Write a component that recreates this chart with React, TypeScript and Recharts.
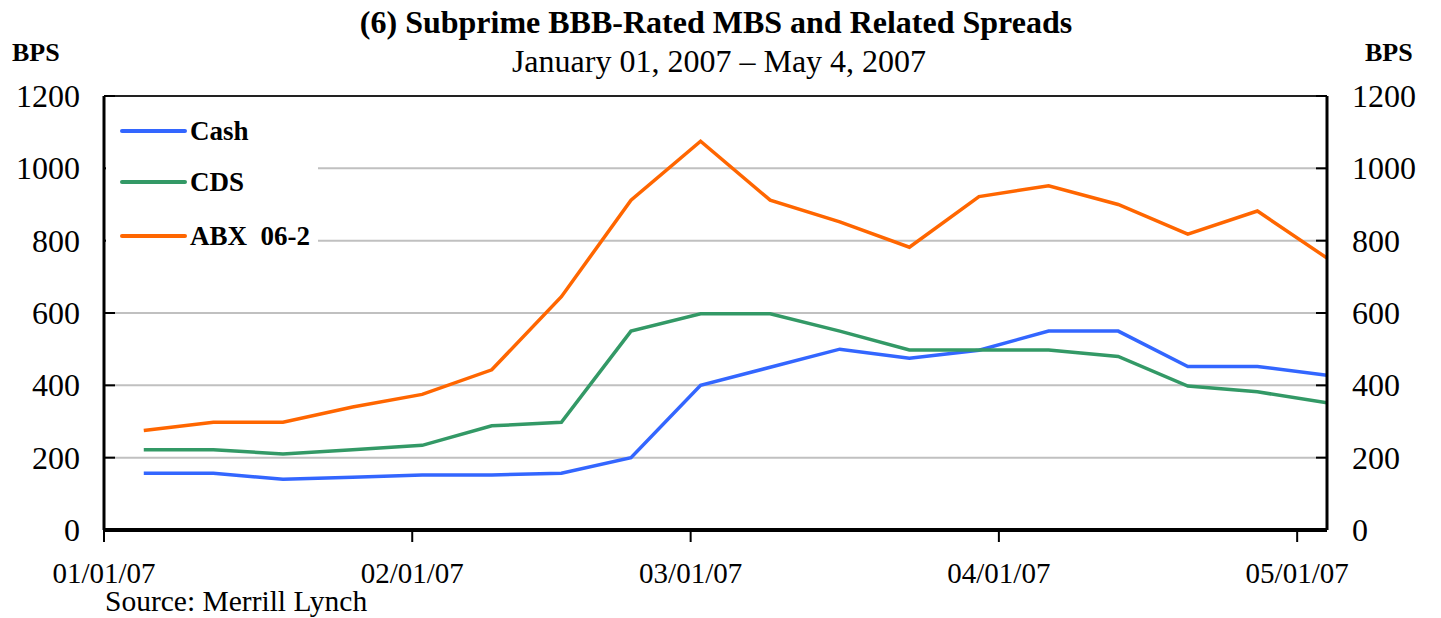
import React from "react";
import {
  LineChart,
  Line,
  XAxis,
  YAxis,
  CartesianGrid,
  ReferenceLine,
} from "recharts";

// ---- data ----
const weekDates = [
  "2007-01-05", "2007-01-12", "2007-01-19", "2007-01-26",
  "2007-02-02", "2007-02-09", "2007-02-16", "2007-02-23",
  "2007-03-02", "2007-03-09", "2007-03-16", "2007-03-23", "2007-03-30",
  "2007-04-06", "2007-04-13", "2007-04-20", "2007-04-27", "2007-05-04",
];
const cash = [157, 157, 140, 146, 152, 152, 157, 200, 400, 450, 500, 475, 497, 550, 550, 452, 452, 428];
const cds = [222, 222, 210, 222, 234, 288, 298, 550, 598, 598, 550, 498, 498, 498, 480, 398, 382, 352];
const abx = [275, 298, 298, 340, 375, 443, 645, 912, 1075, 912, 852, 782, 922, 952, 900, 818, 882, 752];

const xTickDates = ["2007-01-01", "2007-02-01", "2007-03-01", "2007-04-01", "2007-05-01"];
const xTickLabels = ["01/01/07", "02/01/07", "03/01/07", "04/01/07", "05/01/07"];
const yTicks = [0, 200, 400, 600, 800, 1000, 1200];
const seriesNames = ["Cash", "CDS", "ABX  06-2"];
const seriesColors = ["#3366FF", "#339966", "#FF6600"];

const startDate = "2007-01-01";
const endDate = "2007-05-04";

const dayOf = (s: string) =>
  Math.round((Date.parse(s + "T00:00:00Z") - Date.parse(startDate + "T00:00:00Z")) / 86400000);

const data = weekDates.map((d, i) => ({
  day: dayOf(d),
  cash: cash[i],
  cds: cds[i],
  abx: abx[i],
}));
const xTicks = xTickDates.map(dayOf);
const labelByDay: Record<number, string> = {};
xTicks.forEach((d, i) => (labelByDay[d] = xTickLabels[i]));

const FONT = '"Liberation Serif", "Times New Roman", Times, serif';

const LeftTick = (props: any) => {
  const { x, y, payload } = props;
  return (
    <g>
      <line x1={x} x2={x + 11} y1={y} y2={y} stroke="#000" strokeWidth={2} />
      <text x={x - 24} y={y} textAnchor="end" dominantBaseline="central" fontFamily={FONT} fontSize={32} fill="#000">
        {payload.value}
      </text>
    </g>
  );
};

const RightTick = (props: any) => {
  const { x, y, payload } = props;
  return (
    <g>
      <line x1={x - 11} x2={x} y1={y} y2={y} stroke="#000" strokeWidth={2} />
      <text x={x + 25} y={y} textAnchor="start" dominantBaseline="central" fontFamily={FONT} fontSize={32} fill="#000">
        {payload.value}
      </text>
    </g>
  );
};

const BottomTick = (props: any) => {
  const { x, y, payload } = props;
  return (
    <text x={x} y={y + 41} textAnchor="middle" fontFamily={FONT} fontSize={29} fill="#000">
      {labelByDay[payload.value] ?? ""}
    </text>
  );
};

export default function App() {
  return (
    <div style={{ position: "absolute", left: 0, top: 0, width: 1441, height: 618, background: "#fff" }}>
      <LineChart
        width={1441}
        height={618}
        data={data}
        margin={{ top: 96, right: 0, bottom: 0, left: 0 }}
      >
        <CartesianGrid horizontal vertical={false} stroke="#C0C0C0" strokeWidth={2} yAxisId="left" />
        <XAxis
          dataKey="day"
          type="number"
          domain={[0, dayOf(endDate)]}
          ticks={xTicks}
          interval={0}
          height={88}
          axisLine={{ stroke: "#000", strokeWidth: 4 }}
          tickLine={{ stroke: "#000", strokeWidth: 2 }}
          tickSize={12}
          tickMargin={0}
          tick={<BottomTick />}
          allowDataOverflow
        />
        <YAxis
          yAxisId="left"
          orientation="left"
          domain={[0, 1200]}
          ticks={yTicks}
          interval={0}
          width={104}
          axisLine={{ stroke: "#000", strokeWidth: 3 }}
          tickLine={false}
          tickSize={0}
          tickMargin={0}
          tick={<LeftTick />}
        />
        <YAxis
          yAxisId="right"
          orientation="right"
          domain={[0, 1200]}
          ticks={yTicks}
          interval={0}
          width={114}
          axisLine={{ stroke: "#000", strokeWidth: 3 }}
          tickLine={false}
          tickSize={0}
          tickMargin={0}
          tick={<RightTick />}
        />
        <ReferenceLine yAxisId="left" y={1200} stroke="#222" strokeWidth={2} />
        <Line yAxisId="right" type="linear" dataKey="cash" name={seriesNames[0]} stroke={seriesColors[0]} strokeWidth={3.5} dot={false} isAnimationActive={false} />
        <Line yAxisId="left" type="linear" dataKey="cds" name={seriesNames[1]} stroke={seriesColors[1]} strokeWidth={3.5} dot={false} isAnimationActive={false} />
        <Line yAxisId="left" type="linear" dataKey="abx" name={seriesNames[2]} stroke={seriesColors[2]} strokeWidth={3.5} dot={false} isAnimationActive={false} />
      </LineChart>
      <svg width={1441} height={618} style={{ position: "absolute", left: 0, top: 0, pointerEvents: "none" }}>
        <rect x={106} y={99} width={212} height={165} fill="#fff" />
        {seriesNames.map((n, i) => {
          const yy = [131, 182, 236][i];
          return (
            <g key={n}>
              <line x1={122} x2={185} y1={yy} y2={yy} stroke={seriesColors[i]} strokeWidth={4} strokeLinecap="round" />
              <text x={190} y={yy} dominantBaseline="central" fontFamily={FONT} fontWeight="bold" fontSize={27} fill="#000" style={{ whiteSpace: "pre" }}>
                {n}
              </text>
            </g>
          );
        })}
        <text x={716} y={33} textAnchor="middle" fontFamily={FONT} fontWeight="bold" fontSize={32} fill="#000">
          (6) Subprime BBB-Rated MBS and Related Spreads
        </text>
        <text x={719} y={72} textAnchor="middle" fontFamily={FONT} fontSize={32} fill="#000">
          January 01, 2007 – May 4, 2007
        </text>
        <text x={12} y={61} fontFamily={FONT} fontWeight="bold" fontSize={26} fill="#000">BPS</text>
        <text x={1365} y={61} fontFamily={FONT} fontWeight="bold" fontSize={26} fill="#000">BPS</text>
        <text x={105} y={611} fontFamily={FONT} fontSize={29.5} fill="#000">Source: Merrill Lynch</text>
      </svg>
    </div>
  );
}
